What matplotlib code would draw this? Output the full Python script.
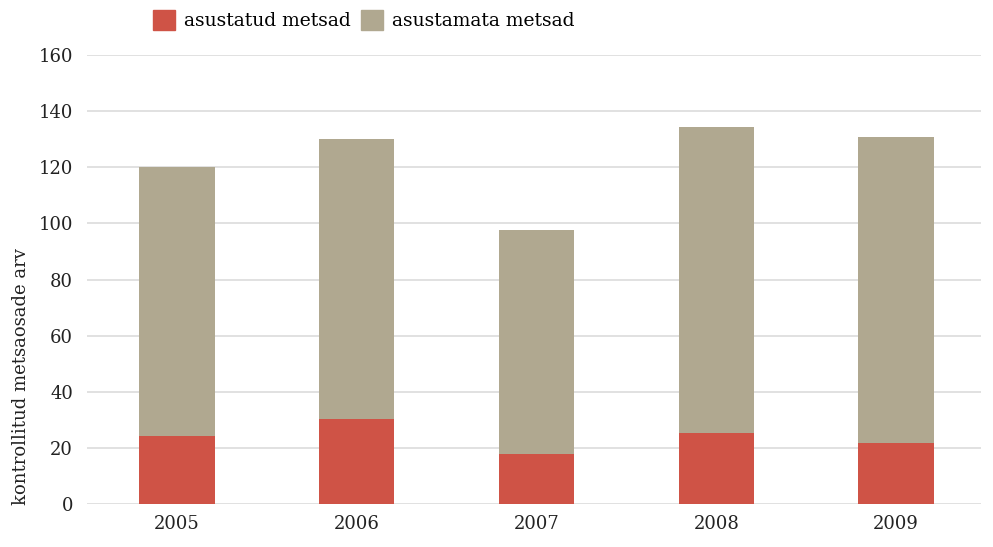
import matplotlib
matplotlib.use("Agg")
import matplotlib.pyplot as plt
import numpy as np
from matplotlib.patches import Patch

years = ["2005", "2006", "2007", "2008", "2009"]
asustatud = [24.3, 30.3, 17.6, 25.4, 21.8]
totals = [120.0, 130.1, 97.6, 134.4, 130.8]
asustamata = [t - a for t, a in zip(totals, asustatud)]
yticks = [0, 20, 40, 60, 80, 100, 120, 140, 160]

plt.rcParams['font.family'] = ['DejaVu Serif']
red = '#cf5346'
tan = '#b0a890'

fig = plt.figure(figsize=(9.93, 5.47), dpi=100)
ax = fig.add_axes([0.0876, 0.079, 0.9, 0.82])
x = np.arange(len(years))
w = 0.42
ax.bar(x, asustatud, w, color=red, zorder=3)
ax.bar(x, asustamata, w, bottom=asustatud, color=tan, zorder=3)
ax.set_xlim(-0.5, 4.47)
ax.set_ylim(0, 160)
ax.set_yticks(yticks)
ax.set_xticks(x)
ax.set_xticklabels(years)
ax.grid(axis='y', color='#dcdcdc', linewidth=1.2, zorder=0)
for s in ax.spines.values():
    s.set_visible(False)
ax.tick_params(length=0, labelsize=13, colors='#222222')
ax.tick_params(axis='y', pad=10)
ax.tick_params(axis='x', pad=8)
fig.text(0.021, 0.077, 'kontrollitud metsaosade arv', rotation=90, va='bottom', ha='center',
         fontsize=13, color='#222222')

handles = [Patch(color=red, label='asustatud metsad'), Patch(color=tan, label='asustamata metsad')]
fig.legend(handles=handles, loc='upper left', bbox_to_anchor=(0.137, 1.012), ncol=2, frameon=False,
           fontsize=13.5, handlelength=1.2, handleheight=1.2, handletextpad=0.45, columnspacing=0.55)
fig.savefig('out.png', dpi=100)
